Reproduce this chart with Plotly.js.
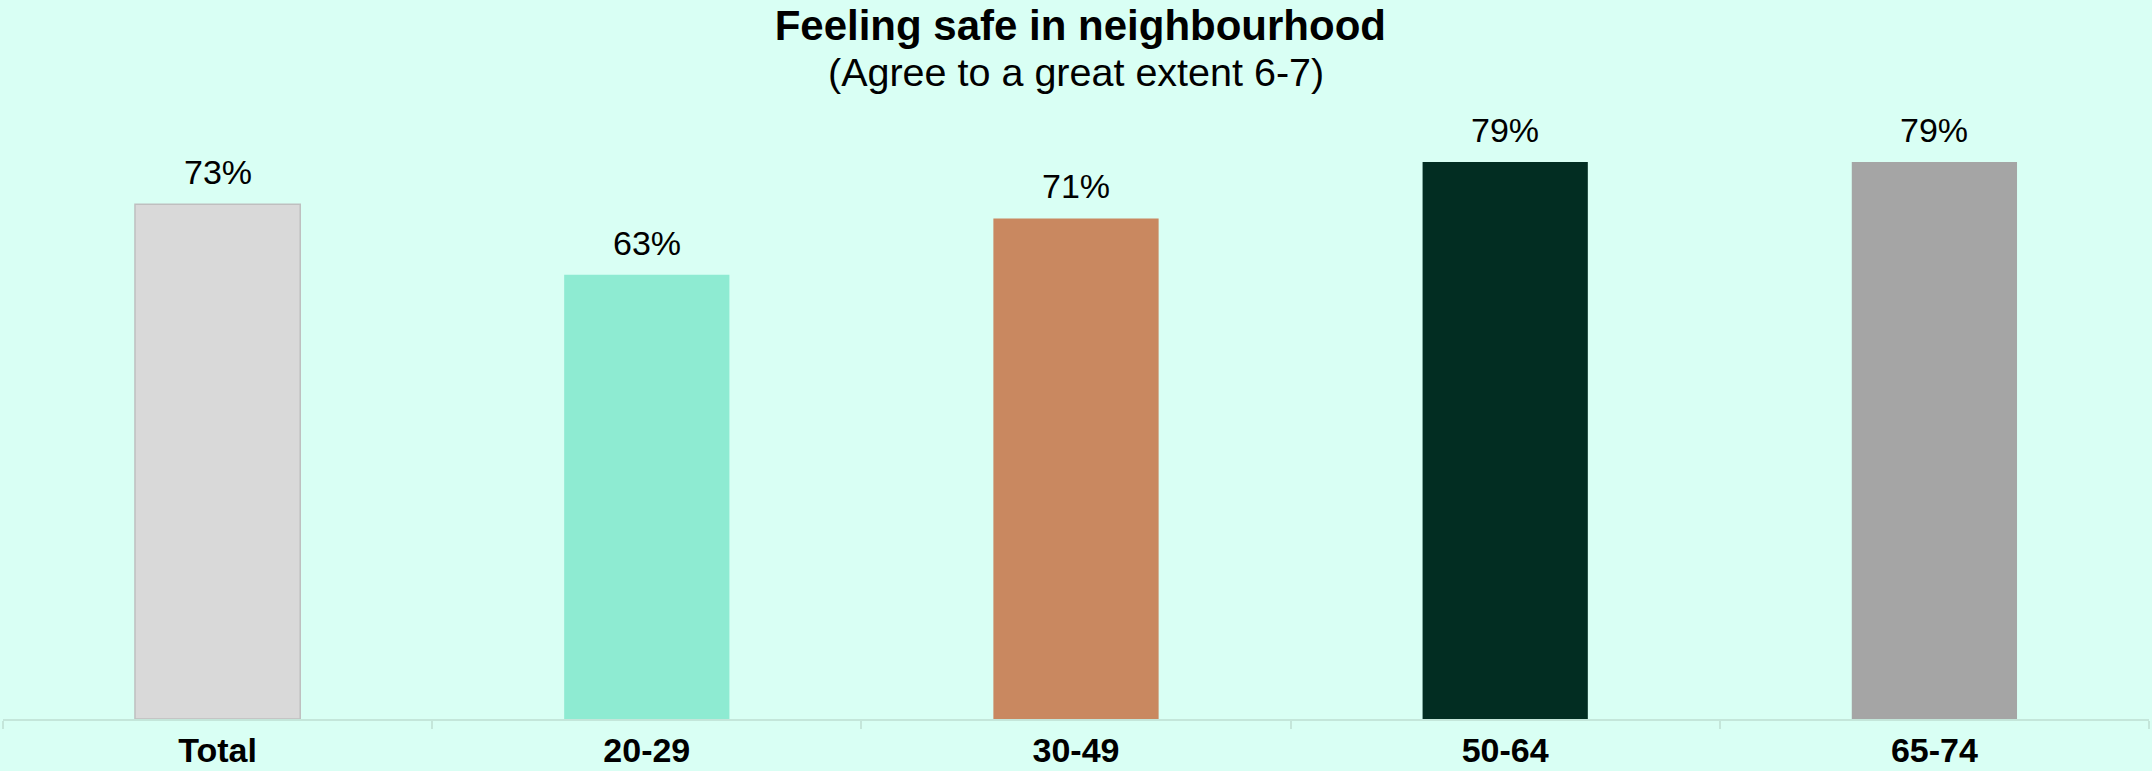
<!DOCTYPE html>
<html>
<head>
<meta charset="utf-8">
<script src="https://cdn.plot.ly/plotly-3.0.1.min.js"></script>
<style>
  html, body { margin: 0; padding: 0; background: #D9FFF4; }
  #chart { width: 2152px; height: 771px; }
</style>
</head>
<body>
<div id="chart"></div>
<script>
const categories = ["Total", "20-29", "30-49", "50-64", "65-74"];
const values = [0.73, 0.63, 0.71, 0.79, 0.79];
const valueLabels = ["73%", "63%", "71%", "79%", "79%"];
const barColors = ["#D9D9D9", "#8EEBD2", "#C98860", "#022D22", "#A5A5A5"];
const barLineColors = ["#BFBFBF", "#8EEBD2", "#C98860", "#022D22", "#A5A5A5"];
const barLineWidths = [1.5, 0, 0, 0, 0];
const titleText = "Feeling safe in neighbourhood";
const subtitleText = "(Agree to a great extent 6-7)";

const FONT = "Liberation Sans, Arial, sans-serif";

const trace = {
  type: "bar",
  x: categories,
  y: values,
  width: 0.385,
  marker: { color: barColors, line: { color: barLineColors, width: barLineWidths } },
  hoverinfo: "none"
};

const labelAnnotations = categories.map((c, i) => ({
  x: c, y: values[i], xref: "x", yref: "y",
  text: valueLabels[i], showarrow: false,
  xanchor: "center", yanchor: "bottom", yshift: 11,
  font: { family: FONT, size: 34, color: "#000000" }
}));

const layout = {
  width: 2152, height: 771,
  paper_bgcolor: "#D9FFF4",
  plot_bgcolor: "#D9FFF4",
  margin: { l: 3, r: 3, t: 14, b: 52, pad: 0 },
  showlegend: false,
  title: {
    text: "<b>" + titleText + "</b>",
    x: 0.502, xanchor: "center",
    y: 1 - 25 / 771, yref: "container", yanchor: "middle",
    font: { family: FONT, size: 42, color: "#000000" }
  },
  xaxis: {
    type: "category",
    showline: true, linecolor: "#C4E6DA", linewidth: 2,
    ticks: "outside", tickson: "boundaries", ticklen: 8, tickcolor: "#C4E6DA", tickwidth: 2,
    tickfont: { family: FONT, size: 34, color: "#000000", weight: "bold" },
    ticklabelstandoff: 0,
    showgrid: false, zeroline: false, fixedrange: true
  },
  yaxis: {
    range: [0, 1], visible: false, showgrid: false, zeroline: false, fixedrange: true
  },
  annotations: [
    {
      x: 0.5, y: 1 - (72 - 14) / 705, xref: "paper", yref: "paper",
      text: subtitleText, showarrow: false,
      xanchor: "center", yanchor: "middle",
      font: { family: FONT, size: 39.5, color: "#000000" }
    }
  ].concat(labelAnnotations)
};

Plotly.newPlot("chart", [trace], layout, { displayModeBar: false, staticPlot: true });
</script>
</body>
</html>
